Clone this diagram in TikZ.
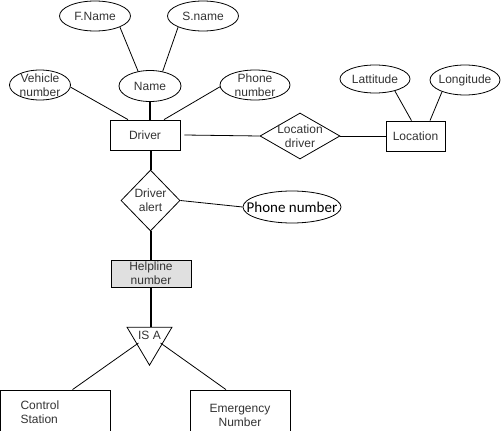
\documentclass[tikz,border=0pt]{standalone}
\usepackage{fontspec}
\setmainfont{Liberation Sans}
\newfontfamily\calibfont{Carlito}
\usetikzlibrary{shapes.geometric,positioning}

\begin{document}
\begin{tikzpicture}[x=1pt, y=-1pt,
            attr/.style={ellipse, draw, line width=0.8pt, inner sep=-20pt, align=center, text=black!80, font=\fontsize{12}{14}\selectfont},
            entity/.style={rectangle, draw, line width=0.8pt, inner sep=0pt, align=center, text=black!80, font=\fontsize{12}{14}\selectfont},
            rel/.style={diamond, draw, line width=0.8pt, inner sep=-30pt, align=center, text=black!80, font=\fontsize{12}{14}\selectfont},
            isatri/.style={isosceles triangle, shape border rotate=-90, isosceles triangle stretches, draw, line width=0.8pt, inner sep=0pt},
            txt/.style={align=center, text=black!80, font=\fontsize{12}{14}\selectfont},
            link/.style={line width=0.8pt},
            heavy/.style={line width=2pt}
        ]
            \useasboundingbox (0,0) rectangle (501,431);

            % --- DRIVER AND ITS ATTRIBUTES ---
            \node[attr, minimum width=71pt, minimum height=30pt] (fname) at (95,16) {F.Name};
            \node[attr, minimum width=71pt, minimum height=30pt] (sname) at (203,16) {S.name};
            \node[attr, minimum width=62pt, minimum height=31pt] (name) at (150,86) {Name};
            \node[attr, minimum width=61pt, minimum height=30pt] (vehicle) at (40,85) {Vehicle\\number};
            \node[attr, minimum width=70pt, minimum height=30pt] (phone) at (255,85) {Phone\\number};
            \node[entity, minimum width=70pt, minimum height=30pt] (driver) at (145,135) {Driver};

            % --- LOCATION ---
            \node[rel, minimum width=80pt, minimum height=46pt] (locdriver) at (300,136) {Location\\driver};
            \node[entity, minimum width=59pt, minimum height=30pt] (location) at (415.5,136) {Location};
            \node[attr, minimum width=70pt, minimum height=28pt] (lat) at (375,79) {Lattitude};
            \node[attr, minimum width=70pt, minimum height=30pt] (lon) at (465,80) {Longitude};

            % --- ALERT ---
            \node[rel, minimum width=59pt, minimum height=61pt] (alert) at (150.5,200.5) {Driver\\alert};
            \node[attr, minimum width=98pt, minimum height=32pt, text=black, font=\calibfont\fontsize{15}{17}\selectfont] (phone2) at (292,207) {Phone number};
            \node[entity, fill=black!12, minimum width=80pt, minimum height=27pt] (helpline) at (151,273.5) {Helpline\\number};

            % --- IS A ---
            \node[isatri, minimum width=45pt, minimum height=38pt, label={[txt, yshift=5pt]center:IS A}] (isa) at (149.5,340) {};
            \node[entity, minimum width=110pt, minimum height=44pt, text width=70pt, align=left] (control) at (55.5,412) {Control\\Station};
            \node[entity, minimum width=100pt, minimum height=50pt] (emergency) at (240,415) {Emergency\\Number};

            % --- CONNECTIONS ---
            \draw[link] (fname.-24) -- (name.129);
            \draw[link] (sname.204) -- (name.49);
            \draw[link] (vehicle.-4) -- ([xshift=-17pt]driver.north);
            \draw[link] (phone.183) -- ([xshift=19pt]driver.north);
            \draw[heavy] (name.south) -- (name.south |- driver.north);

            \draw[link] ([xshift=4pt]driver.east) -- (locdriver.west);
            \draw[link] (locdriver.east) -- (location.west);
            \draw[link] (lat.-31) -- ([xshift=-4pt]location.north);
            \draw[link] (lon.207) -- ([xshift=14.5pt]location.north);

            \draw[heavy] (alert.north |- driver.south) -- (alert.north);
            \draw[link] (alert.east) -- (phone2.west);
            \draw[heavy] (alert.south) -- (alert.south |- helpline.north);
            \draw[heavy] (helpline.south) -- (helpline.south |- isa.north);

            \draw[link] ([xshift=-11pt, yshift=-3pt]isa.center) -- ([xshift=17pt]control.north);
            \draw[link] ([xshift=11pt, yshift=-3pt]isa.center) -- ([xshift=-14pt]emergency.north);
        \end{tikzpicture}
\end{document}
